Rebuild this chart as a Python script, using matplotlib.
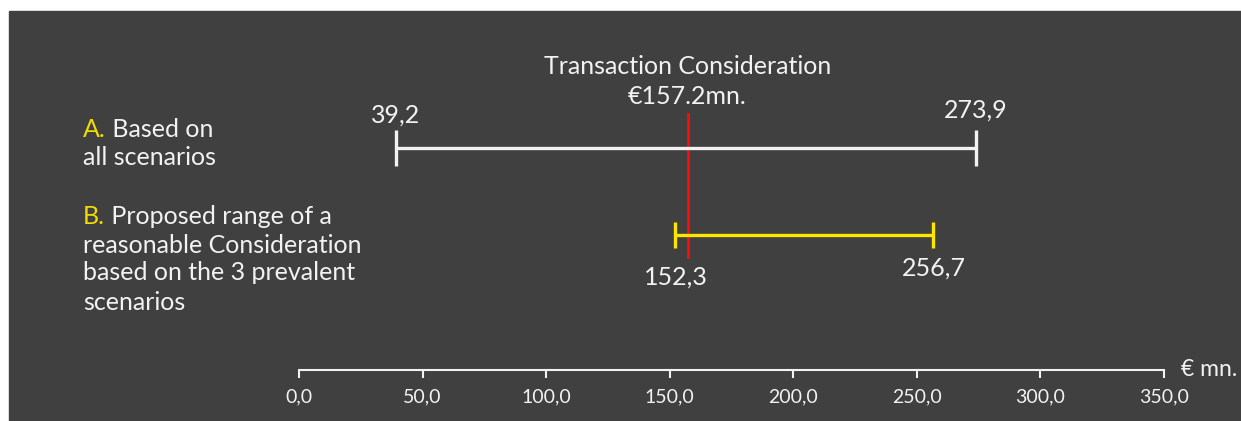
import matplotlib.pyplot as plt
from matplotlib import font_manager
from matplotlib.patches import Rectangle

# ranges of the consideration, in € mn.
range_keys = ['A.', 'B.']
range_lines = [
    ['Based on', 'all scenarios'],
    ['Proposed range of a', 'reasonable Consideration', 'based on the 3 prevalent', 'scenarios'],
]
range_low = [39.2, 152.3]
range_high = [273.9, 256.7]
consideration = 157.2
axis_ticks = [0, 50, 100, 150, 200, 250, 300, 350]

W, H = 1241, 421
BG = '#404040'
TXT = '#f2f2f2'
YELLOW = '#ffe600'
FONT = 'Lato'
FS = 18

installed = {f.name for f in font_manager.fontManager.ttflist}
TICK_FONT = 'Liberation Sans Narrow' if 'Liberation Sans Narrow' in installed else FONT


def fmt(v):
    return f'{v:.1f}'.replace('.', ',')


def fx(x):
    return x / W


def fy(y):
    return 1 - y / H


fig = plt.figure(figsize=(W / 100, H / 100), dpi=100, facecolor='white')
fig.patches.append(Rectangle((fx(9), 0), 1, fy(11), transform=fig.transFigure,
                             color=BG, zorder=-10))

ax = fig.add_axes([fx(299), 0, fx(865), 1])
ax.set_xlim(0, 350)
ax.set_ylim(H, 0)
ax.patch.set_alpha(0)
for s in ['top', 'left', 'right']:
    ax.spines[s].set_visible(False)
ax.spines['bottom'].set_position(('data', 370))
ax.spines['bottom'].set_color(TXT)
ax.spines['bottom'].set_linewidth(1.5)
ax.set_yticks([])
ax.set_xticks(axis_ticks, [fmt(t) for t in axis_ticks])
ax.tick_params(axis='x', direction='out', length=6, width=1.5, color=TXT,
               labelcolor=TXT, labelsize=14, pad=7)
for lab in ax.get_xticklabels():
    lab.set_family(TICK_FONT)
fig.text(fx(1181), fy(369), '€ mn.', color=TXT, fontsize=16.5, family=FONT,
         ha='left', va='center')

# row layout (pixel rows, top-down)
row_y = [148, 235]
cap_half = [18, 13]
colors = [TXT, YELLOW]

for i in range(len(range_keys)):
    y = row_y[i]
    ax.plot([range_low[i], range_high[i]], [y, y], color=colors[i], lw=2.4,
            solid_capstyle='butt', zorder=3)
    for v in (range_low[i], range_high[i]):
        ax.plot([v, v], [y - cap_half[i], y + cap_half[i]], color=colors[i], lw=2.4,
                solid_capstyle='butt', zorder=3)

# value labels
ax.text(range_low[0], 115, fmt(range_low[0]), color=TXT, fontsize=FS, family=FONT,
        ha='center', va='center')
ax.text(range_high[0], 110, fmt(range_high[0]), color=TXT, fontsize=FS, family=FONT,
        ha='center', va='center')
ax.text(range_low[1], 277, fmt(range_low[1]), color=TXT, fontsize=FS, family=FONT,
        ha='center', va='center')
ax.text(range_high[1], 268, fmt(range_high[1]), color=TXT, fontsize=FS, family=FONT,
        ha='center', va='center')

# transaction consideration marker
ax.plot([consideration, consideration], [114, 257], color='#ff0a0a', lw=2.0, zorder=2)
ax.text(consideration, 66, 'Transaction Consideration', color=TXT, fontsize=FS,
        family=FONT, ha='center', va='center')
ax.text(consideration, 97, f'€{consideration}mn.', color=TXT, fontsize=FS,
        family=FONT, ha='center', va='center')

# left-hand descriptions
line_y = [[130, 158], [216, 245, 273, 302]]
for i, key in enumerate(range_keys):
    for j, line in enumerate(range_lines[i]):
        if j == 0:
            t = fig.text(fx(83), fy(line_y[i][j]), key, color='#f0dc00', fontsize=FS,
                         family=FONT, ha='left', va='center')
            ax.annotate(' ' + line, xy=(1, 0), xycoords=t, color=TXT, fontsize=FS,
                        family=FONT, ha='left', va='bottom', annotation_clip=False)
        else:
            fig.text(fx(83), fy(line_y[i][j]), line, color=TXT, fontsize=FS,
                     family=FONT, ha='left', va='center')

fig.savefig('out.png', dpi=100, facecolor='white')
